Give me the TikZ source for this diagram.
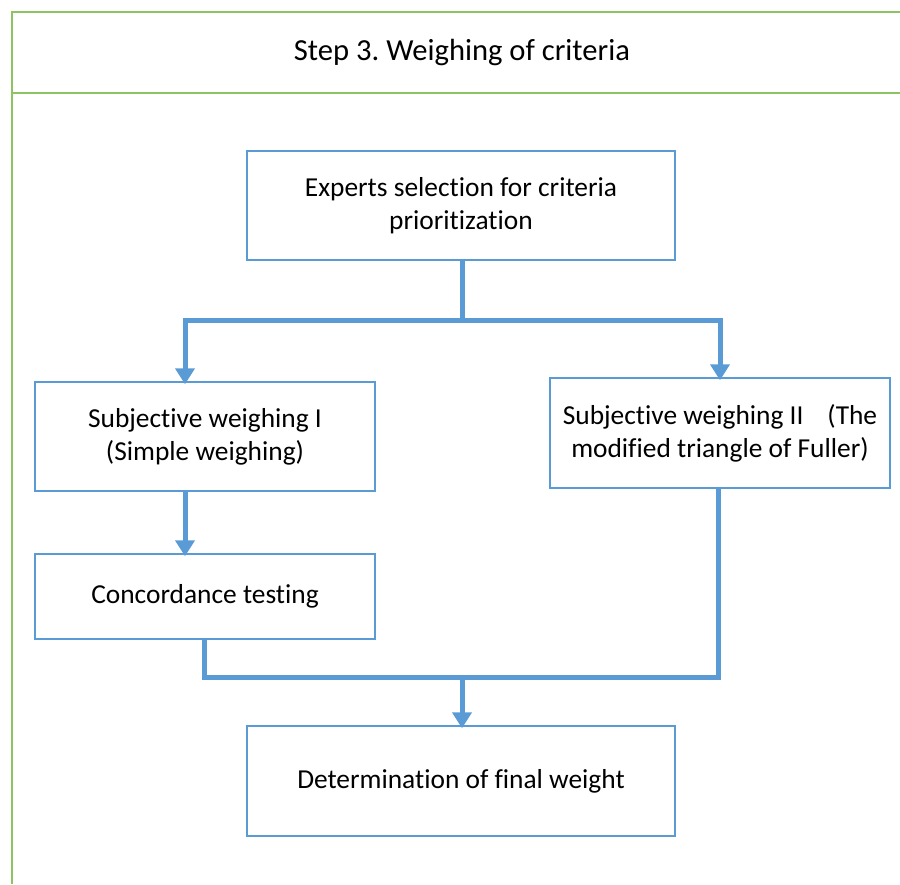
\documentclass[tikz,border=0pt]{standalone}
\usepackage{fontspec}
\setmainfont{Carlito}[Ligatures={NoCommon,NoContextual}]
\usetikzlibrary{arrows.meta}
\definecolor{framegreen}{RGB}{141,196,98}
\definecolor{boxblue}{RGB}{91,155,213}
\frenchspacing
\begin{document}
\begin{tikzpicture}[x=1pt,y=-1pt,
  frameline/.style={draw=framegreen,line width=1.6pt},
  stepbox/.style={draw=boxblue,line width=1.4pt,rectangle,align=center,
    font=\fontsize{27.4}{33}\selectfont,inner sep=0pt},
  flow/.style={draw=boxblue,line width=5pt},
  flowarrow/.style={flow,-{Triangle[width=19pt,length=16pt]}}]
\useasboundingbox (0,0) rectangle (900,884);
% outer frame with title band
\draw[frameline] (12,884) -- (12,12) -- (900,12);
\draw[frameline] (12,93) -- (900,93);
\node[font=\fontsize{30.6}{33}\selectfont] (title) at (462,53) {Step 3. Weighing of criteria};
% process boxes
\node[stepbox,minimum width=428pt,minimum height=109pt] (b1) at (461,205.5)
  {Experts selection for criteria\\prioritization};
\node[stepbox,minimum width=340pt,minimum height=109pt] (b2) at (205,436.5)
  {Subjective weighing I\\(Simple weighing)};
\node[stepbox,minimum width=340pt,minimum height=110pt] (b3) at (720,433)
  {Subjective weighing II\hspace{24pt}(The\\modified triangle of Fuller)};
\node[stepbox,minimum width=340pt,minimum height=85pt] (b4) at (205,596.5)
  {Concordance testing};
\node[stepbox,minimum width=428pt,minimum height=110pt] (b5) at (461,781)
  {Determination of final weight};
% split below the first box
\coordinate (split) at (462,320);
\coordinate (jl) at (185,320);
\coordinate (jr) at (720,320);
\draw[flow] (b1.south -| split) -- (split);
\draw[flow,line cap=rect] (jl) -- (jr);
\draw[flowarrow] (jl) -- ([yshift=-3pt]jl |- b2.north);
\draw[flowarrow] (jr) -- ([yshift=-3pt]jr |- b3.north);
\draw[flowarrow] (b2.south -| jl) -- ([yshift=-3pt]jl |- b4.north);
% merge above the last box
\coordinate (ml) at (204,677);
\coordinate (mr) at (718,677);
\coordinate (merge) at (462,677);
\draw[flow,line join=miter] (b4.south -| ml) -- (ml) -- (mr) -- (b3.south -| mr);
\draw[flowarrow] (merge) -- ([yshift=-3pt]merge |- b5.north);
\end{tikzpicture}
\end{document}
